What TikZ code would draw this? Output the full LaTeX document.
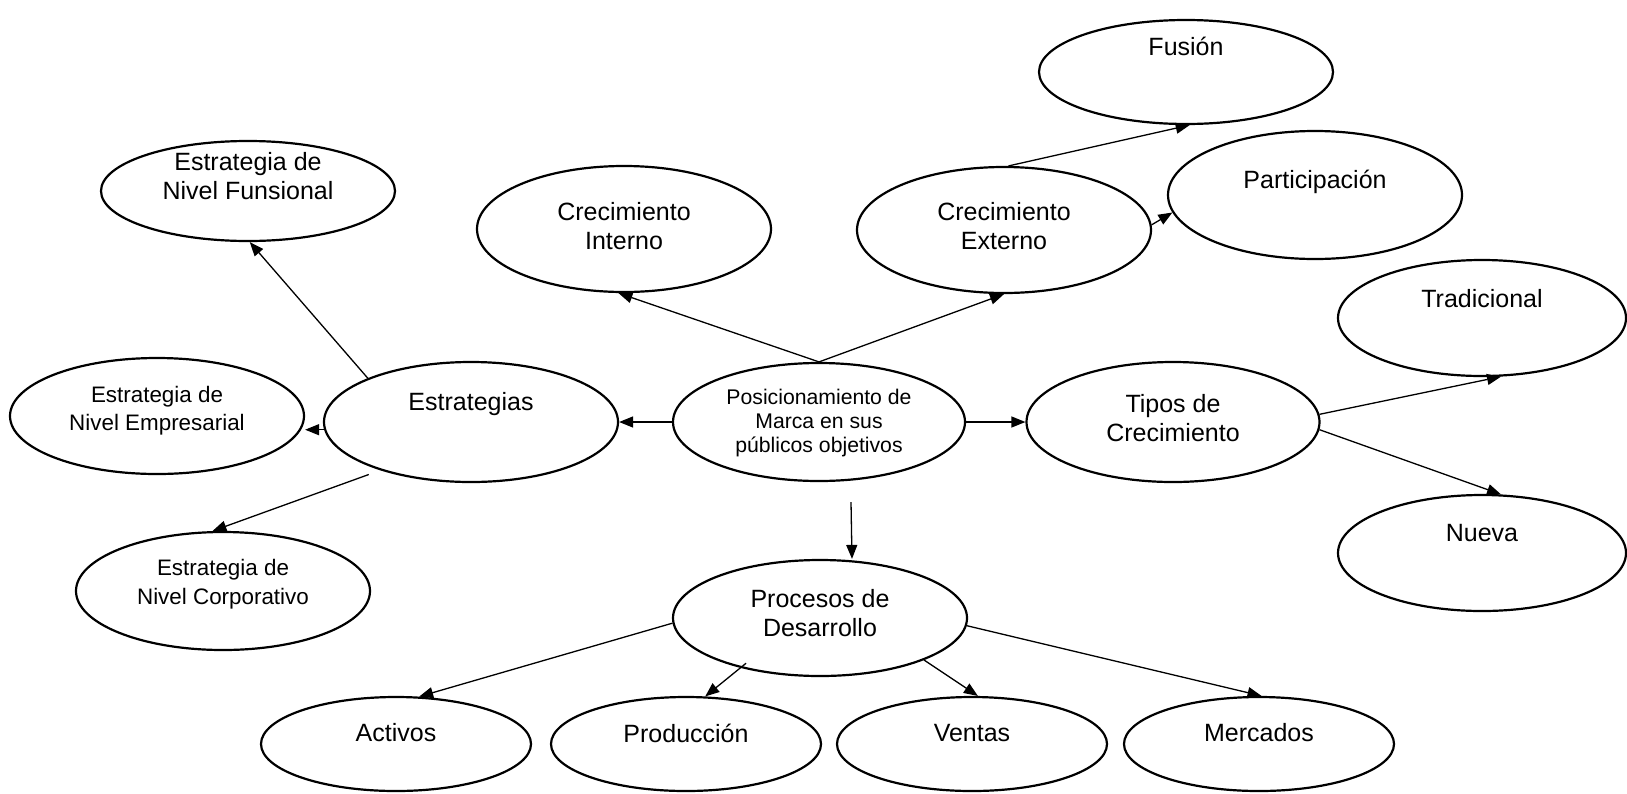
\documentclass[tikz,border=0pt]{standalone}
\usepackage{fontspec}
\setmainfont{Liberation Sans}
\usetikzlibrary{shapes.geometric,arrows.meta}
\newcommand\fbig{\fontsize{25}{29}\selectfont}
\newcommand\fmid{\fontsize{22.4}{28.5}\selectfont}
\newcommand\fpos{\fontsize{21.2}{24}\selectfont}
\tikzset{
  ell/.style={draw, ellipse, line width=2.2pt, inner sep=0pt},
  lbl/.style={font=\fbig, align=center, inner sep=0pt},
  arr/.style={line width=1.3pt, -{Triangle[length=14pt,width=11pt]}},
}
\begin{document}
\begin{tikzpicture}[x=1pt,y=-1pt]
\useasboundingbox[fill=white] (0,0) rectangle (1627,793);
% top
\node[ell, minimum width=294pt, minimum height=104pt, label={[lbl,yshift=26pt]center:Fusión}] (fus) at (1186,72) {};
\node[ell, minimum width=294pt, minimum height=100pt, label={[lbl,yshift=14.5pt]center:Estrategia de\\Nivel Funsional}] (fun) at (248,191) {};
\node[ell, minimum width=294pt, minimum height=126pt, label={[lbl,yshift=2.5pt]center:Crecimiento\\Interno}] (int) at (624,229) {};
\node[ell, minimum width=294pt, minimum height=126pt, label={[lbl,yshift=3.5pt]center:Crecimiento\\Externo}] (ext) at (1004,230) {};
\node[ell, minimum width=294pt, minimum height=128pt, label={[lbl,yshift=13pt]center:Participación}] (part) at (1315,195) {};
\node[ell, minimum width=288pt, minimum height=116pt, label={[lbl,yshift=19pt]center:Tradicional}] (trad) at (1482,318) {};
% middle row
\node[ell, minimum width=294pt, minimum height=116pt, label={[lbl,font=\fmid,yshift=5.5pt]center:Estrategia de\\Nivel Empresarial}] (emp) at (157,416) {};
\node[ell, minimum width=294pt, minimum height=120pt, label={[lbl,yshift=18pt]center:Estrategias}] (estr) at (471,422) {};
\node[ell, minimum width=292pt, minimum height=118pt, label={[lbl,font=\fpos,yshift=-1pt]center:Posicionamiento de\\Marca en sus\\públicos objetivos}] (pos) at (819,422) {};
\node[ell, minimum width=293pt, minimum height=120pt, label={[lbl,yshift=3.5pt]center:Tipos de\\Crecimiento}] (tipos) at (1173,422) {};
\node[ell, minimum width=288pt, minimum height=116pt, label={[lbl,yshift=20pt]center:Nueva}] (nueva) at (1482,553) {};
% lower
\node[ell, minimum width=294pt, minimum height=118pt, label={[lbl,font=\fmid,yshift=7pt]center:Estrategia de\\Nivel Corporativo}] (corp) at (223,591) {};
\node[ell, minimum width=294pt, minimum height=116pt, label={[lbl,yshift=4.5pt]center:Procesos de\\Desarrollo}] (proc) at (820,618) {};
\node[ell, minimum width=270pt, minimum height=94pt, label={[lbl,yshift=11pt]center:Activos}] (act) at (396,744) {};
\node[ell, minimum width=270pt, minimum height=94pt, label={[lbl,yshift=11pt]center:Producción}] (prod) at (686,744) {};
\node[ell, minimum width=270pt, minimum height=94pt, label={[lbl,yshift=11pt]center:Ventas}] (vent) at (972,744) {};
\node[ell, minimum width=270pt, minimum height=94pt, label={[lbl,yshift=11pt]center:Mercados}] (merc) at (1259,744) {};
% connectors
\draw[arr] (estr.157) -- (fun.-88);
\draw[arr] (estr.183) -- (estr.183 -| emp.east);
\draw[arr] ([shift={(-9pt,-5pt)}]estr.207) -- (corp.100);
\draw[arr] (pos.north) -- (int.-95);
\draw[arr] (pos.north) -- (ext.south);
\draw[arr] (pos.west) -- (estr.east);
\draw[arr] (pos.east) -- (tipos.west);
\draw[arr] ([xshift=32pt,yshift=-20pt]pos.south) -- ([xshift=32pt]proc.north);
\draw[arr] (ext.86) -- (fus.-86);
\draw[arr] (ext.2) -- (part.187);
\draw[arr] (tipos.3) -- (trad.-72);
\draw[arr] (tipos.-3) -- (nueva.72);
\draw[arr] (proc.182) -- (act.64);
\draw[arr] ([shift={(8pt,4pt)}]proc.211) -- (prod.68);
\draw[arr] (proc.-22) -- (vent.83);
\draw[arr] (proc.-3) -- (merc.87);
\end{tikzpicture}
\end{document}
